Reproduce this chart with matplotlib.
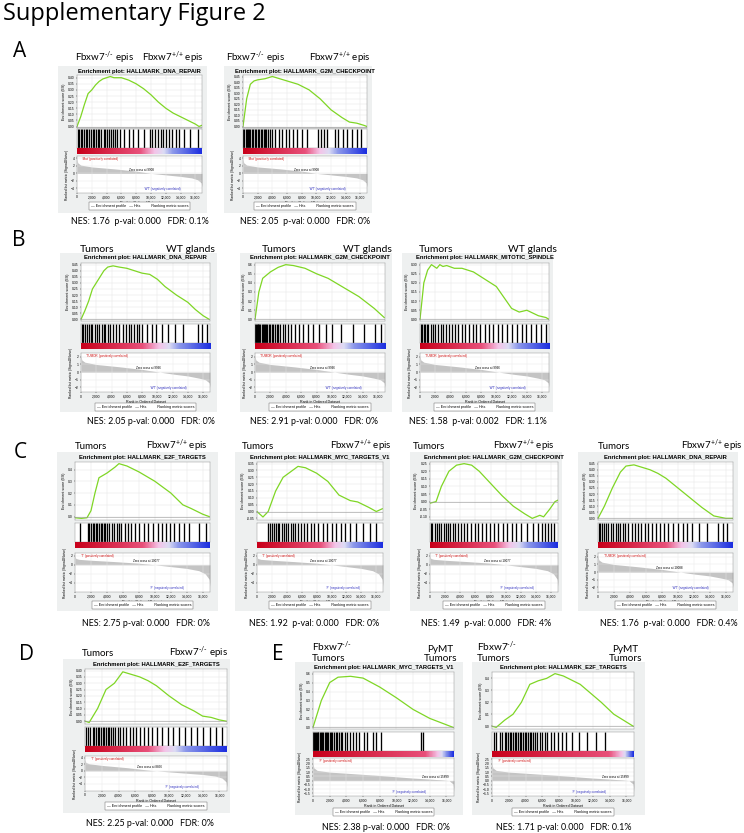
import numpy as np
import matplotlib.pyplot as plt
from matplotlib.colors import LinearSegmentedColormap
from matplotlib.patches import Rectangle

plt.rcParams['font.family'] = ['Lato', 'DejaVu Sans']
plt.rcParams['mathtext.fontset'] = 'custom'
plt.rcParams['mathtext.rm'] = 'Lato'
plt.rcParams['mathtext.it'] = 'Lato'

W, H = 744, 833
N = 16.9  # list size in thousands

# ---------------- data (ranks in thousands) ----------------
A1_RANK = [0, 0.5, 1, 1.5, 2, 2.5, 3, 3.5, 4, 4.5, 5, 5.5, 6, 6.5, 7, 8, 9, 10, 11, 12, 13, 14, 15, 16, 16.5, 16.9]
A1_ES = [0, 0.08, 0.18, 0.27, 0.30, 0.34, 0.37, 0.39, 0.40, 0.41, 0.40, 0.40, 0.40, 0.39, 0.38, 0.35, 0.31, 0.26, 0.20, 0.15, 0.11, 0.08, 0.05, 0.02, 0.0, 0.01]
A1_HITS = [0.1, 0.3, 0.5, 0.7, 0.9, 1.2, 1.4, 1.6, 1.9, 2.1, 2.3, 2.6, 2.8, 3.0, 3.3, 3.6, 3.8, 4.1, 4.3, 4.6, 4.9, 5.2, 5.4, 5.8, 6.4, 7.0, 7.6, 8.3, 9.0, 9.9, 10.2, 10.6, 10.9, 11.3, 11.6, 12.0, 12.5, 12.9, 13.4, 13.8, 14.5, 15.3, 16.4]

A2_RANK = [0, 0.5, 1, 1.5, 2, 3, 4, 5, 6, 7.5, 9, 10.5, 12, 13.5, 14.5, 15.5, 16.5, 16.9]
A2_ES = [0, 0.25, 0.38, 0.41, 0.42, 0.43, 0.45, 0.43, 0.41, 0.38, 0.33, 0.25, 0.15, 0.08, 0.04, 0.03, 0.01, 0.0]
A2_HITS = [0.05, 0.2, 0.35, 0.5, 0.65, 0.8, 1.0, 1.2, 1.4, 1.6, 1.8, 2.0, 2.2, 2.4, 2.6, 2.8, 3.0, 3.2, 3.4, 3.7, 4.0, 4.3, 4.9, 5.3, 5.8, 6.3, 6.8, 7.4, 8.0, 8.7, 10.2, 10.6, 11.0, 11.5, 12.5, 13.0, 13.6, 14.2, 14.9, 15.5, 16.1]

B1_RANK = [0, 0.5, 1, 1.5, 2, 3, 3.5, 4.2, 5, 6, 7, 8, 9, 10, 11, 12.5, 14, 15, 16, 16.8]
B1_ES = [0, 0.07, 0.15, 0.25, 0.30, 0.40, 0.43, 0.44, 0.43, 0.42, 0.40, 0.38, 0.37, 0.33, 0.27, 0.20, 0.14, 0.08, 0.03, 0.0]
B1_HITS = [0.1, 0.3, 0.5, 0.8, 1.0, 1.3, 1.5, 1.8, 2.1, 2.4, 2.7, 3.0, 3.2, 3.5, 3.8, 4.2, 4.6, 5.0, 5.5, 5.9, 6.3, 6.6, 6.9, 7.3, 7.6, 8.0, 8.6, 9.3, 9.8, 10.6, 11.4, 12.3, 13.4, 15.3, 15.8, 16.5]

B2_RANK = [0, 0.5, 1, 2, 3, 4, 5, 6.5, 8, 9.5, 11.5, 13.5, 15.5, 16.8]
B2_ES = [0, 0.30, 0.45, 0.52, 0.57, 0.60, 0.59, 0.56, 0.50, 0.45, 0.35, 0.25, 0.12, 0.02]
B2_HITS = [0.05, 0.15, 0.25, 0.35, 0.45, 0.55, 0.7, 0.85, 1.0, 1.15, 1.3, 1.45, 1.6, 1.8, 2.0, 2.2, 2.4, 2.6, 2.8, 3.0, 3.3, 3.6, 3.9, 4.3, 4.7, 5.2, 5.7, 6.3, 6.9, 7.5, 8.3, 9.2, 10.0, 11.2, 12.8, 14.2, 15.6, 16.4]

B3_RANK = [0, 0.5, 1, 1.5, 2.2, 2.6, 3, 3.5, 4.5, 5.5, 7, 8.5, 10, 11, 12, 13, 14, 14.5, 15.5, 16.5, 16.9]
B3_ES = [0, 0.20, 0.27, 0.30, 0.28, 0.30, 0.29, 0.295, 0.28, 0.28, 0.26, 0.22, 0.18, 0.12, 0.06, 0.04, 0.05, 0.04, 0.02, 0.01, 0.0]
B3_HITS = [0.1, 0.3, 0.5, 0.7, 0.9, 1.1, 1.4, 1.7, 2.0, 2.3, 2.7, 3.0, 3.4, 3.8, 4.2, 4.6, 5.0, 5.5, 5.9, 6.4, 6.9, 7.4, 7.9, 8.5, 9.0, 9.5, 10.2, 10.7, 11.4, 12.1, 12.7, 13.3, 13.9, 14.5, 15.2, 15.9, 16.5]

C1_RANK = [0, 0.8, 1.5, 2, 2.5, 3, 4, 5, 5.5, 6.5, 8, 10, 12, 13.5, 14.5, 16, 16.8]
C1_ES = [-0.01, -0.015, -0.01, 0.05, 0.20, 0.33, 0.37, 0.42, 0.45, 0.43, 0.38, 0.30, 0.20, 0.10, 0.07, 0.02, 0.0]
C1_HITS = [0.6, 1.6, 1.8, 2.0, 2.2, 2.4, 2.6, 2.8, 3.0, 3.2, 3.4, 3.6, 3.8, 4.0, 4.3, 4.6, 4.9, 5.2, 5.5, 5.8, 6.2, 6.6, 7.0, 7.5, 8.0, 8.6, 9.2, 9.8, 10.4, 10.9, 11.4, 11.9, 12.4, 13.0, 13.6, 14.3, 15.5, 16.4]

C2_RANK = [0, 0.8, 1.5, 2.5, 3.5, 4.5, 5.5, 6.5, 8, 9.5, 11, 12.5, 13.5, 15, 16, 16.8]
C2_ES = [0.0, -0.04, 0.0, 0.15, 0.25, 0.29, 0.33, 0.32, 0.28, 0.22, 0.12, 0.08, 0.07, 0.03, 0.0, 0.02]
C2_HITS = [1.5, 1.8, 2.0, 2.3, 2.5, 2.8, 3.0, 3.3, 3.6, 3.9, 4.2, 4.5, 4.8, 5.1, 5.5, 5.9, 6.3, 6.7, 7.2, 7.7, 8.2, 8.8, 9.4, 10.0, 10.6, 11.2, 11.8, 12.5, 13.3, 14.2, 15.2, 16.0]

C3_RANK = [0, 0.8, 1.5, 2.5, 3.5, 4.5, 5.5, 6.5, 8, 9.5, 11, 12.5, 13.5, 14.5, 15, 15.8, 16.5, 16.9]
C3_ES = [-0.01, 0.0, 0.10, 0.20, 0.24, 0.25, 0.24, 0.20, 0.12, 0.04, -0.03, -0.08, -0.11, -0.09, -0.10, -0.05, 0.0, 0.01]
C3_HITS = [0.1, 0.3, 0.6, 0.9, 1.2, 1.5, 1.8, 2.1, 2.4, 2.7, 3.0, 3.3, 3.7, 4.1, 4.5, 4.9, 5.4, 5.9, 6.4, 6.9, 7.4, 7.9, 8.5, 9.0, 9.6, 10.2, 10.8, 11.4, 12.0, 12.8, 13.6, 14.2, 14.8, 15.2, 15.6, 16.0, 16.4]

C4_RANK = [0, 0.8, 1.8, 2.8, 3.5, 4.5, 5.5, 6.5, 7.5, 8.5, 10, 11.5, 13, 14.5, 16, 16.9]
C4_ES = [0, 0.10, 0.25, 0.38, 0.43, 0.44, 0.42, 0.40, 0.37, 0.33, 0.25, 0.17, 0.09, 0.02, 0.0, 0.0]
C4_HITS = [0.1, 0.3, 0.5, 0.8, 1.0, 1.3, 1.6, 1.9, 2.2, 2.5, 2.8, 3.1, 3.4, 3.8, 4.2, 4.6, 5.0, 5.4, 5.9, 6.3, 6.8, 7.2, 7.8, 8.3, 8.8, 9.4, 10.0, 10.6, 11.2, 11.8, 12.6, 13.6, 15.0, 15.6, 16.1]

D_RANK = [0, 0.5, 1.5, 2.5, 3.5, 4.5, 5.5, 6.5, 7.5, 8.5, 10, 11.5, 13, 14, 15, 16, 16.8]
D_ES = [0, -0.01, 0.10, 0.25, 0.30, 0.39, 0.37, 0.35, 0.32, 0.28, 0.20, 0.13, 0.08, 0.04, 0.03, 0.01, 0.0]
D_HITS = [0.1, 0.3, 0.6, 0.9, 1.1, 1.3, 1.5, 1.7, 1.9, 2.1, 2.3, 2.5, 2.7, 2.9, 3.1, 3.3, 3.6, 3.9, 4.2, 4.5, 4.9, 5.3, 5.7, 6.1, 6.5, 7.0, 7.5, 8.0, 8.6, 9.2, 9.9, 10.5, 11.2, 11.9, 12.6, 13.3, 14.1, 14.9, 15.6, 16.3]

E1_RANK = [0, 1, 2, 3, 4.5, 6, 8, 10, 12, 14, 16.8]
E1_ES = [0, 0.30, 0.50, 0.56, 0.57, 0.55, 0.45, 0.33, 0.20, 0.10, 0.0]
E1_HITS = [0.05, 0.15, 0.25, 0.35, 0.45, 0.55, 0.65, 0.8, 0.95, 1.1, 1.25, 1.4, 1.55, 1.7, 1.85, 2.0, 2.15, 2.3, 2.5, 2.7, 2.9, 3.1, 3.3, 3.5, 3.8, 4.1, 4.4, 4.8, 5.2, 5.5, 6.1, 6.5, 7.2, 7.5, 8.2, 13.0, 13.2]

E2_RANK = [0, 0.5, 1.5, 2.5, 3.5, 4.5, 5.5, 6.5, 7.5, 8.5, 10.5, 13, 14.5, 16.8]
E2_ES = [0, -0.01, 0.05, 0.10, 0.20, 0.35, 0.38, 0.40, 0.44, 0.42, 0.35, 0.20, 0.10, 0.0]
E2_HITS = [0.2, 0.5, 0.9, 1.2, 1.5, 1.7, 1.9, 2.1, 2.3, 2.5, 2.7, 2.9, 3.1, 3.3, 3.5, 3.7, 3.9, 4.1, 4.3, 4.5, 4.7, 4.9, 5.1, 5.4, 5.7, 6.0, 6.3, 6.6, 7.0, 7.4, 7.8, 8.3, 8.8, 9.5, 10.3, 11.3, 12.4, 13.4]

METRIC_RANK = [0, 0.1, 0.5, 2, 5, 8, 10, 12, 14, 15.5, 16.3, 16.8, 16.9]
A_METRIC = [3.8, 2.8, 2.2, 1.7, 1.2, 0.6, 0.0, -0.4, -0.8, -1.2, -1.7, -2.5, -3.6]
B_METRIC = [2.2, 1.6, 1.3, 1.0, 0.7, 0.35, 0.05, -0.25, -0.5, -0.8, -1.0, -1.4, -2.0]
C_METRIC = [2.0, 1.4, 1.2, 1.0, 0.7, 0.35, 0.0, -0.4, -0.8, -1.3, -2.0, -3.2, -4.8]
D_METRIC = [3.5, 2.6, 2.2, 1.7, 1.0, 0.1, -0.3, -0.7, -1.1, -1.6, -2.2, -3.4, -5.0]
E_METRIC = [2.0, 1.5, 1.2, 1.0, 0.8, 0.6, 0.45, 0.3, 0.18, 0.08, 0.0, -0.4, -1.3]

XTICKS = [0, 2, 4, 6, 8, 10, 12, 14, 16]
XTICK_LABELS = ['0', '2,000', '4,000', '6,000', '8,000', '10,000', '12,000', '14,000', '16,000']

# row layout in pixels: header baseline, box top/bottom, title, ES, hits, colour bar, metric, legend, NES
ROWS = {
    'A': dict(head=61, box=(66, 213), title=73, es=(75, 128), hits=(129, 148), cb=(148, 154), m=(156, 193), leg=206, nes=224),
    'B': dict(head=252, box=(253, 412), title=259, es=(263, 321), hits=(324, 343), cb=(343, 349), m=(353, 392), leg=407, nes=424),
    'C': dict(head=449, box=(452, 611), title=459, es=(462, 520), hits=(523, 542), cb=(542, 548), m=(553, 592), leg=605, nes=626),
    'D': dict(head=656, box=(659, 813), title=666, es=(669, 724), hits=(727, 746), cb=(746, 752), m=(756, 791), leg=806, nes=826),
    'E': dict(head=661, box=(662, 815), title=669, es=(672, 729), hits=(732, 751), cb=(751, 757), m=(758, 796), leg=812, nes=830),
}

MUT = r'Fbxw7$^{\text{-/-}}$'
WT = r'Fbxw7$^{\text{+/+}}$'

PANELS = [
    dict(row='A', box=(58, 207), L=77, R=202, head=(MUT + ' epis', WT + ' epis'), hx=(75, 204),
         title='HALLMARK_DNA_REPAIR', rank=A1_RANK, es=A1_ES, hits=A1_HITS, ytk=np.arange(0, 0.41, 0.05), fmt='%.2f',
         metric=A_METRIC, mtk=[4, 2, 0, -2, -4], cb=(8.5, 10.5, 13.0), zc='9908', pos="'Mut'", neg="'WT'",
         nes='NES: 1.76  p-val: 0.000   FDR: 0.1%', nx=140),
    dict(row='A', box=(224, 372), L=243, R=367, head=(MUT + ' epis', WT + ' epis'), hx=(226, 371),
         title='HALLMARK_G2M_CHECKPOINT', rank=A2_RANK, es=A2_ES, hits=A2_HITS, ytk=np.arange(0, 0.46, 0.05), fmt='%.2f',
         metric=A_METRIC, mtk=[4, 2, 0, -2, -4], cb=(8.5, 10.5, 13.0), zc='9908', pos="'Mut'", neg="'WT'",
         nes='NES: 2.05  p-val: 0.000   FDR: 0%', nx=305),
    dict(row='B', box=(60, 217), L=81, R=210, head=('Tumors', 'WT glands'), hx=(80, 215),
         title='HALLMARK_DNA_REPAIR', rank=B1_RANK, es=B1_ES, hits=B1_HITS, ytk=np.arange(0, 0.46, 0.05), fmt='%.2f',
         metric=B_METRIC, mtk=[2, 1, 0, -1, -2], cb=(8.0, 10.2, 12.8), zc='9996', pos="'TUMOR'", neg="'WT'",
         nes='NES: 2.05 p-val: 0.000   FDR: 0%', nx=151),
    dict(row='B', box=(240, 392), L=255, R=385, head=('Tumors', 'WT glands'), hx=(262, 392),
         title='HALLMARK_G2M_CHECKPOINT', rank=B2_RANK, es=B2_ES, hits=B2_HITS, ytk=np.arange(0, 0.61, 0.1), fmt='%.1f',
         metric=B_METRIC, mtk=[2, 1, 0, -1, -2], cb=(8.0, 10.2, 12.8), zc='9996', pos="'TUMOR'", neg="'WT'",
         nes='NES: 2.91 p-val: 0.000   FDR: 0%', nx=314),
    dict(row='B', box=(402, 553), L=420, R=549, head=('Tumors', 'WT glands'), hx=(419, 557),
         title='HALLMARK_MITOTIC_SPINDLE', rank=B3_RANK, es=B3_ES, hits=B3_HITS, ytk=np.arange(0, 0.31, 0.05), fmt='%.2f',
         metric=B_METRIC, mtk=[2, 1, 0, -1, -2], cb=(8.0, 10.2, 12.8), zc='9996', pos="'TUMOR'", neg="'WT'",
         nes='NES: 1.58  p-val: 0.002   FDR: 1.1%', nx=478),
    dict(row='C', box=(57, 218), L=75, R=210, head=('Tumors', WT + ' epis'), hx=(75, 208),
         title='HALLMARK_E2F_TARGETS', rank=C1_RANK, es=C1_ES, hits=C1_HITS, ytk=np.arange(0, 0.41, 0.1), fmt='%.1f',
         metric=C_METRIC, mtk=[2, 0, -2, -4], cb=(8.5, 10.5, 13.0), zc='10077', pos="'T'", neg="'F'",
         nes='NES: 2.75 p-val: 0.000   FDR: 0%', nx=146),
    dict(row='C', box=(235, 390), L=257, R=383, head=('Tumors', WT + ' epis'), hx=(242, 392),
         title='HALLMARK_MYC_TARGETS_V1', rank=C2_RANK, es=C2_ES, hits=C2_HITS, ytk=np.arange(-0.05, 0.36, 0.05), fmt='%.2f',
         metric=C_METRIC, mtk=[2, 0, -2, -4], cb=(8.5, 10.5, 13.0), zc='10077', pos="'T'", neg="'F'",
         nes='NES: 1.92  p-val: 0.000   FDR: 0%', nx=314),
    dict(row='C', box=(410, 562), L=430, R=558, head=('Tumors', WT + ' epis'), hx=(413, 555),
         title='HALLMARK_G2M_CHECKPOINT', rank=C3_RANK, es=C3_ES, hits=C3_HITS, ytk=np.arange(-0.10, 0.26, 0.05), fmt='%.2f',
         metric=C_METRIC, mtk=[2, 0, -2, -4], cb=(8.5, 10.5, 13.0), zc='10077', pos="'T'", neg="'F'",
         nes='NES: 1.49  p-val: 0.000   FDR: 4%', nx=486),
    dict(row='C', box=(578, 738), L=598, R=733, head=('Tumors', WT + ' epis'), hx=(598, 743),
         title='HALLMARK_DNA_REPAIR', rank=C4_RANK, es=C4_ES, hits=C4_HITS, ytk=np.arange(0, 0.46, 0.05), fmt='%.2f',
         metric=B_METRIC, mtk=[2, 1, 0, -1, -2], cb=(8.5, 10.5, 13.0), zc='10088', pos="'TUMOR'", neg="'WT'",
         nes='NES: 1.76  p-val: 0.000   FDR: 0.4%', nx=669),
    dict(row='D', box=(63, 230), L=85, R=227, head=('Tumors', MUT + ' epis'), hx=(82, 228),
         title='HALLMARK_E2F_TARGETS', rank=D_RANK, es=D_ES, hits=D_HITS, ytk=np.arange(0, 0.41, 0.05), fmt='%.2f',
         metric=D_METRIC, mtk=[4, 2, 0, -2, -4], cb=(7.5, 9.5, 12.0), zc='8856', pos="'T'", neg="'F'",
         nes='NES: 2.25 p-val: 0.000   FDR: 0%', nx=150),
    dict(row='E', box=(295, 463), L=313, R=454, head=(MUT + '\nTumors', 'PyMT\nTumors'), hx=(312, 457),
         title='HALLMARK_MYC_TARGETS_V1', rank=E1_RANK, es=E1_ES, hits=E1_HITS, ytk=np.arange(0, 0.61, 0.1), fmt='%.1f',
         metric=E_METRIC, mtk=[2.5, 2.0, 1.5, 1.0, 0.5, 0.0, -0.5, -1.0, -1.5], cb=(13.5, 15.0, 16.0), zc='15899', pos="'F'", neg="'P'",
         nes='NES: 2.38 p-val: 0.000   FDR: 0%', nx=386),
    dict(row='E', box=(472, 645), L=492, R=634, head=(MUT + '\nTumors', 'PyMT\nTumors'), hx=(477, 642),
         title='HALLMARK_E2F_TARGETS', rank=E2_RANK, es=E2_ES, hits=E2_HITS, ytk=np.arange(0, 0.41, 0.1), fmt='%.1f',
         metric=E_METRIC, mtk=[2.5, 2.0, 1.5, 1.0, 0.5, 0.0, -0.5, -1.0, -1.5], cb=(14.0, 15.5, 16.3), zc='15899', pos="'F'", neg="'P'",
         nes='NES: 1.71 p-val: 0.000   FDR: 0.1%', nx=564),
]

LETTERS = [('A', 13, 57), ('B', 12, 246), ('C', 14, 458), ('D', 19, 660), ('E', 272, 660)]

fig = plt.figure(figsize=(W / 100, H / 100), dpi=100)


def fx(x):
    return x / W


def fy(y):
    return 1 - y / H


def add_ax(x0, x1, y0, y1):
    return fig.add_axes([fx(x0), fy(y1), (x1 - x0) / W, (y1 - y0) / H])


def tiny(ax):
    ax.tick_params(labelsize=2.4, length=1, width=0.3, pad=0.8)
    for s in ax.spines.values():
        s.set_linewidth(0.3)
        s.set_color('#888888')
    for t in ax.get_xticklabels() + ax.get_yticklabels():
        t.set_family('Liberation Sans')


fig.text(fx(3), fy(20), 'Supplementary Figure 2', fontsize=17, va='baseline', ha='left', family='Open Sans')
for letter, x, y in LETTERS:
    fig.text(fx(x), fy(y), letter, fontsize=15, va='baseline', ha='left', family='Open Sans')

for p in PANELS:
    r = ROWS[p['row']]
    L, R = p['L'], p['R']
    bx0, bx1 = p['box']
    by0, by1 = r['box']
    fig.patches.append(Rectangle((fx(bx0), fy(by1)), (bx1 - bx0) / W, (by1 - by0) / H,
                                 transform=fig.transFigure, facecolor='#eef0f0', edgecolor='none', zorder=-10))

    # header labels
    hl, hr = p['head']
    hs = 7.0 if 'Fbxw7' in hl + hr else 7.5
    if p['row'] == 'E':
        fig.text(fx(p['hx'][0]), fy(r['head']), hl, fontsize=7.2, ha='left', va='baseline', linespacing=1.0)
        fig.text(fx(p['hx'][1]), fy(r['head']), hr, fontsize=7.2, ha='right', va='baseline', linespacing=1.0,
                 multialignment='center')
    else:
        fig.text(fx(p['hx'][0]), fy(r['head']), hl, fontsize=hs, ha='left', va='baseline')
        fig.text(fx(p['hx'][1]), fy(r['head']), hr, fontsize=hs, ha='right', va='baseline')

    fig.text(fx((L + R) / 2), fy(r['title']), 'Enrichment plot: ' + p['title'], fontsize=4.2,
             fontweight='bold', family='Liberation Sans', ha='center', va='baseline')

    # enrichment score
    ax = add_ax(L, R, *r['es'])
    ax.plot(p['rank'], p['es'], color='#7fd625', lw=0.9)
    ax.axhline(0, color='#999999', lw=0.4)
    lo = min(min(p['es']), p['ytk'][0])
    hi = max(max(p['es']), p['ytk'][-1])
    pad = (hi - lo) * 0.03
    ax.set_ylim(lo - pad, hi + pad)
    ax.set_xlim(0, N)
    ax.set_yticks(p['ytk'])
    ax.set_yticklabels([p['fmt'] % v for v in p['ytk']])
    ax.set_xticks(XTICKS)
    ax.set_xticklabels([])
    ax.grid(color='#e2e2e2', lw=0.3)
    ax.set_ylabel('Enrichment score (ES)', fontsize=2.6, labelpad=1, family='Liberation Sans')
    tiny(ax)
    ax.tick_params(axis='x', length=0)

    # hits
    ax = add_ax(L, R, *r['hits'])
    ax.vlines(p['hits'], 0, 1, color='black', lw=0.95)
    ax.set_xlim(0, N)
    ax.set_ylim(0, 1)
    ax.set_xticks([])
    ax.set_yticks([])
    tiny(ax)

    # colour bar
    a, b, c = p['cb']
    cmap = LinearSegmentedColormap.from_list(
        'gsea', [(0, '#c8001a'), (a / N, '#e8507a'), (b / N, '#f4c4e8'),
                 ((b + c) / 2 / N, '#dcdcf4'), (c / N, '#8c98ea'), (1, '#1c2ee0')])
    ax = add_ax(L, R, *r['cb'])
    ax.imshow(np.linspace(0, 1, 300)[None, :], cmap=cmap, aspect='auto', extent=(0, N, 0, 1))
    ax.set_axis_off()

    # ranked list metric
    ax = add_ax(L, R, *r['m'])
    ax.fill_between(METRIC_RANK, 0, p['metric'], color='#c4c4c4', lw=0)
    mt = p['mtk']
    ax.set_ylim(min(min(p['metric']), mt[-1]) - 0.6 * abs(mt[0] - mt[1]), max(p['metric'][0], mt[0]) + 0.3 * abs(mt[0] - mt[1]))
    ax.set_xlim(0, N)
    ax.set_yticks(mt)
    ax.set_xticks(XTICKS)
    ax.set_xticklabels(XTICK_LABELS)
    ax.grid(color='#e6e6e6', lw=0.3)
    ax.set_xlabel('Rank in Ordered Dataset', fontsize=2.6, labelpad=0.8, family='Liberation Sans')
    ax.set_ylabel('Ranked list metric (Signal2Noise)', fontsize=2.4, labelpad=1, family='Liberation Sans')
    tiny(ax)
    ytop = ax.get_ylim()[1]
    ylo = ax.get_ylim()[0]
    ax.text(0.7, ytop - 0.02 * (ytop - ylo), p['pos'] + ' (positively correlated)', color='#d01010', fontsize=2.2,
            va='top', family='Liberation Sans')
    ax.text(float(p['zc']) / 1000 - 1.2, 0.05 * (ytop - ylo), 'Zero cross at ' + p['zc'], fontsize=2.2,
            ha='center', va='bottom', family='Liberation Sans')
    ax.text(11.5, ylo + 0.06 * (ytop - ylo), p['neg'] + ' (negatively correlated)', color='#3030c0', fontsize=2.2,
            ha='center', va='bottom', family='Liberation Sans')

    # legend strip
    fig.text(fx((L + R) / 2), fy(r['leg']),
             '\u2014 Enrichment profile   \u2014 Hits           Ranking metric scores',
             fontsize=2.7, family='Liberation Sans', ha='center', va='center',
             bbox=dict(facecolor='white', edgecolor='#555555', lw=0.3, boxstyle='square,pad=0.5'))

    fig.text(fx(p['nx']), fy(r['nes']), p['nes'], fontsize=6.4, ha='center', va='baseline')

fig.savefig('out.png', dpi=100)
